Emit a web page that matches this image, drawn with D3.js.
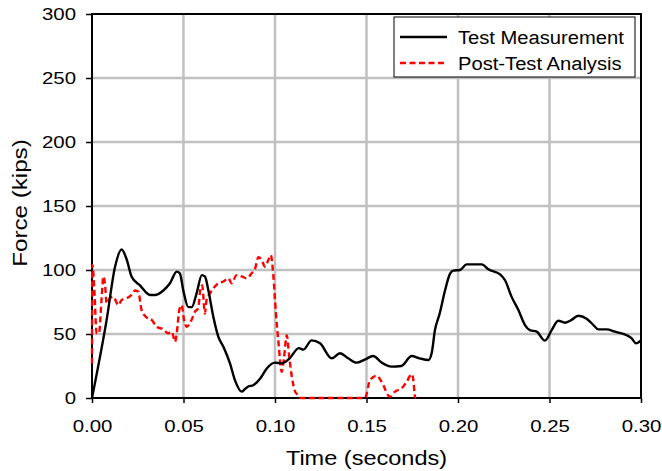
<!DOCTYPE html>
<html>
<head>
<meta charset="utf-8">
<script src="https://cdn.jsdelivr.net/npm/d3@7"></script>
<style>
  body { margin: 0; background: #fff; }
  text { font-family: "Liberation Sans", Arial, sans-serif; fill: #000; }
</style>
</head>
<body>
<script>
// measured force trace (seconds, kips)
var testTime = [0, 0.008, 0.0126, 0.0162, 0.019, 0.0216, 0.0262, 0.0317, 0.0344, 0.039, 0.0426,
    0.0463, 0.048, 0.0499, 0.0526, 0.0545, 0.0572, 0.06, 0.0617, 0.0636, 0.0663, 0.069, 0.0718,
    0.0754, 0.0781, 0.0818, 0.0836, 0.0854, 0.0881, 0.0918, 0.0955, 0.1, 0.1036, 0.108, 0.113,
    0.1155, 0.12, 0.1246, 0.131, 0.1355, 0.14, 0.1446, 0.149, 0.1537, 0.158, 0.1637, 0.169,
    0.1747, 0.179, 0.1838, 0.1856, 0.1874, 0.19, 0.1929, 0.1956, 0.1974, 0.2011, 0.2047, 0.213,
    0.2166, 0.223, 0.2257, 0.2293, 0.233, 0.2366, 0.2393, 0.243, 0.2475, 0.2512, 0.2548, 0.2585,
    0.2621, 0.2657, 0.2703, 0.274, 0.2767, 0.2812, 0.2858, 0.2922, 0.2949, 0.2973, 0.3];
var testForce = [0, 61, 102.6, 116, 108, 95, 88, 80.5, 80.5, 84, 89.6,
    98.7, 97.4, 84, 71, 71, 82, 96, 95, 84, 63.5, 48, 40,
    27, 14, 5, 7, 9, 10, 15, 23, 27.6, 27, 31, 39,
    37.8, 45, 42.7, 31, 35, 31, 27.6, 30, 32.8, 28, 24.5, 25,
    32.8, 31, 29.7, 35, 53, 66, 84, 97, 99.5, 100, 104.4, 104.4,
    100.5, 96.6, 92, 79, 68.7, 57, 53, 51.8, 44.8, 53, 60.4, 58.8,
    61, 64.3, 62, 57, 53.6, 53.6, 51.8, 49, 46.6, 42.7, 45];

// post-test analysis trace
var analysisTime = [0, 0.0002, 0.0013, 0.0025, 0.0038, 0.0053, 0.0062, 0.0071, 0.008, 0.0098,
    0.0117, 0.0144, 0.0162, 0.019, 0.0216, 0.0235, 0.0253, 0.0271, 0.0298, 0.0326, 0.0353,
    0.039, 0.0417, 0.0435, 0.0454, 0.0463, 0.0477, 0.049, 0.0503, 0.0517, 0.0544, 0.0563,
    0.058, 0.0593, 0.0602, 0.0617, 0.0626, 0.0645, 0.0663, 0.069, 0.0718, 0.0745, 0.0763,
    0.079, 0.0818, 0.0845, 0.0872, 0.0891, 0.0909, 0.0927, 0.0945, 0.0964, 0.0977, 0.099,
    0.1005, 0.1018, 0.1037, 0.1049, 0.1064, 0.1078, 0.1092, 0.111, 0.1128, 0.1137, 0.1492,
    0.1519, 0.1556, 0.1582, 0.1628, 0.1656, 0.1692, 0.172, 0.1747, 0.1756, 0.1765, 0.177];
var analysisForce = [27, 104, 84, 50.6, 50.6, 79, 95, 89, 74, 78,
    79, 72.6, 76.6, 78, 80.5, 84, 83, 68.7, 63, 61, 55.7,
    53.6, 50.5, 52, 44, 50.5, 68.7, 72.6, 61, 55.7, 61, 67.4,
    70, 85.7, 88, 66, 76.6, 81.8, 85.7, 89.6, 91, 93.5, 89.6,
    96, 95, 93.5, 97.4, 101, 110, 108, 102.6, 108, 111.7, 97.4,
    66, 45, 20.5, 31, 49, 32, 16.6, 5, 2, 0, 0,
    14, 17.4, 12.8, 1, 5, 7.6, 12.8, 18.7, 14, 1, 0];

var xTicks = [0, 0.05, 0.10, 0.15, 0.20, 0.25, 0.30];
var yTicks = [0, 50, 100, 150, 200, 250, 300];

var margin = { top: 14, right: 21, bottom: 73, left: 92 },
    width = 662 - margin.left - margin.right,
    height = 471 - margin.top - margin.bottom;

// the original text is a little wider than Liberation Sans, stretch it
function stretch(sel, k) {
    sel.each(function () {
        var len = this.getComputedTextLength();
        d3.select(this).attr("textLength", len * k).attr("lengthAdjust", "spacingAndGlyphs");
    });
}

var svg = d3.select("body").append("svg")
    .attr("width", 662)
    .attr("height", 471);

var g = svg.append("g")
    .attr("transform", `translate(${margin.left},${margin.top})`);

var x = d3.scaleLinear().domain([0, 0.3]).range([0, width]);
var y = d3.scaleLinear().domain([0, 300]).range([height, 0]);

// grid
g.append("g").selectAll("line").data(xTicks.slice(1, -1)).join("line")
    .attr("x1", d => x(d)).attr("x2", d => x(d))
    .attr("y1", 0).attr("y2", height)
    .attr("stroke", "#c0c0c0").attr("stroke-width", 2.5);
g.append("g").selectAll("line").data(yTicks.slice(1, -1)).join("line")
    .attr("y1", d => y(d)).attr("y2", d => y(d))
    .attr("x1", 0).attr("x2", width)
    .attr("stroke", "#c0c0c0").attr("stroke-width", 2.5);

// axes
var xAxis = g.append("g")
    .attr("transform", `translate(0,${height})`)
    .call(d3.axisBottom(x).tickValues(xTicks).tickFormat(d3.format(".2f")).tickSize(5).tickPadding(17));
var yAxis = g.append("g")
    .call(d3.axisLeft(y).tickValues(yTicks).tickSize(6).tickPadding(10));
[xAxis, yAxis].forEach(function (a) {
    a.select(".domain").remove();
    a.selectAll("line").attr("stroke", "#000").attr("stroke-width", 1.5);
    a.selectAll("text").style("font-size", "17px").call(stretch, 1.2);
});

// frame
g.append("rect")
    .attr("width", width).attr("height", height)
    .attr("fill", "none").attr("stroke", "#000").attr("stroke-width", 2);

// lines
var testData = testTime.map((t, i) => [t, testForce[i]]);
var analysisData = analysisTime.map((t, i) => [t, analysisForce[i]]);
var line = d3.line().x(d => x(d[0])).y(d => y(d[1])).curve(d3.curveMonotoneX);

g.append("path").datum(analysisData)
    .attr("d", line)
    .attr("fill", "none")
    .attr("stroke", "#ff0000")
    .attr("stroke-width", 2.4)
    .attr("stroke-dasharray", "6,3.5");

g.append("path").datum(testData)
    .attr("d", line)
    .attr("fill", "none")
    .attr("stroke", "#000")
    .attr("stroke-width", 2.4);

// legend
var legend = g.append("g").attr("transform", `translate(${width - 247},3)`);
legend.append("rect")
    .attr("width", 241).attr("height", 60)
    .attr("fill", "#fff").attr("stroke", "#000").attr("stroke-width", 1);
var legendItems = [
    { name: "Test Measurement", color: "#000", dash: null },
    { name: "Post-Test Analysis", color: "#ff0000", dash: "6,3.5" }
];
legendItems.forEach(function (d, i) {
    var yy = 20 + i * 26;
    legend.append("line")
        .attr("x1", 6).attr("x2", 53)
        .attr("y1", yy).attr("y2", yy)
        .attr("stroke", d.color).attr("stroke-width", 2.4)
        .attr("stroke-dasharray", d.dash);
    legend.append("text")
        .attr("x", 64).attr("y", yy + 7)
        .style("font-size", "18px")
        .text(d.name)
        .call(stretch, 1.12);
});

// axis titles
svg.append("text")
    .attr("x", margin.left + width / 2)
    .attr("y", 465)
    .attr("text-anchor", "middle")
    .style("font-size", "21px")
    .text("Time (seconds)")
    .call(stretch, 1.12);
svg.append("text")
    .attr("transform", `translate(27,203) rotate(-90)`)
    .attr("text-anchor", "middle")
    .style("font-size", "21px")
    .text("Force (kips)")
    .call(stretch, 1.15);
</script>
</body>
</html>
